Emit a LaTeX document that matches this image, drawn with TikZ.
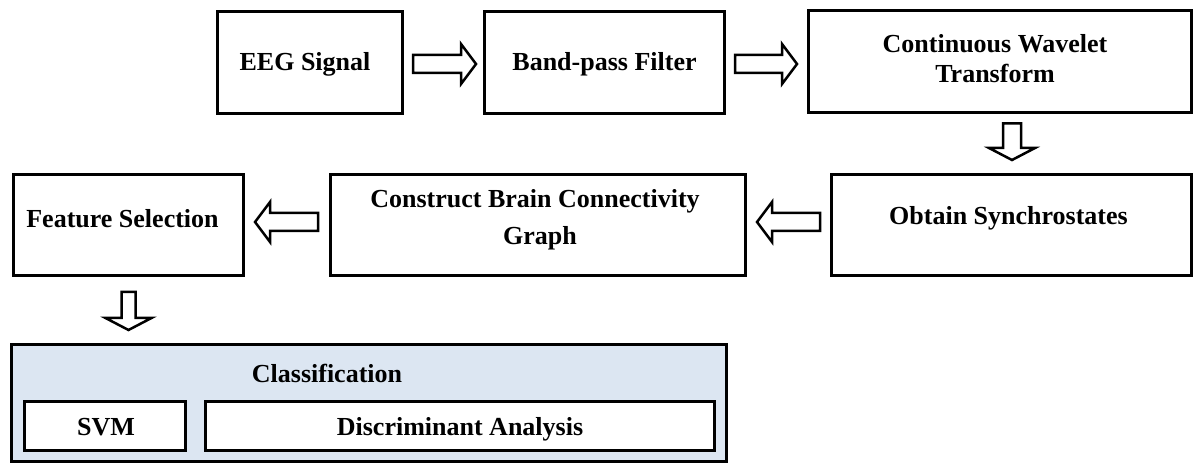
\documentclass[tikz,border=0pt]{standalone}
\usepackage{fontspec}
\setmainfont{Liberation Serif}
\usetikzlibrary{calc}
\definecolor{clsfill}{HTML}{DCE6F2}
\tikzset{
  box/.style={draw=black, line width=3pt, fill=white, inner sep=0pt, rectangle},
  txt/.style={font=\fontsize{26}{30}\selectfont\bfseries, inner sep=0pt, anchor=base},
  blk/.style={draw=black, line width=2.5pt, fill=white, line join=miter},
}
\newcommand\harr[4]{%
  \draw[blk] let \p1=(#1), \p2=(#2), \n1={sign(\x2-\x1)} in
    (\x1,\y1+#3) -- (\x2-\n1*15pt,\y1+#3) -- (\x2-\n1*15pt,\y1+#4) -- (\x2,\y1)
    -- (\x2-\n1*15pt,\y1-#4) -- (\x2-\n1*15pt,\y1-#3) -- (\x1,\y1-#3) -- cycle;}
\newcommand\varr[4]{%
  \draw[blk] let \p1=(#1), \p2=(#2) in
    (\x1-#3,\y1) -- (\x1-#3,\y2+12pt) -- (\x1-#4,\y2+12pt) -- (\x1,\y2)
    -- (\x1+#4,\y2+12pt) -- (\x1+#3,\y2+12pt) -- (\x1+#3,\y1) -- cycle;}
\begin{document}
\begin{tikzpicture}[x=1pt,y=-1pt]
\useasboundingbox (0,0) rectangle (1195,465);
% boxes
\node[box, minimum width=185, minimum height=102] (eeg) at (310,62.5) {};
\node[box, minimum width=240, minimum height=102] (bpf) at (604.5,62.5) {};
\node[box, minimum width=383, minimum height=102] (cwt) at (1000,62) {};
\node[box, minimum width=360, minimum height=101] (obt) at (1011.5,225) {};
\node[box, minimum width=415, minimum height=101] (cbg) at (538,225) {};
\node[box, minimum width=230, minimum height=101] (fs) at (128.5,225) {};
\node[box, fill=clsfill, minimum width=715, minimum height=117] (cls) at (369,403) {};
\node[box, minimum width=161, minimum height=49] (svm) at (105,426) {};
\node[box, minimum width=509, minimum height=49] (da) at (460,426) {};
% texts
\node[txt] (eegt) at ($(eeg.center)+(-5,8.5)$) {EEG Signal};
\node[txt] (bpft) at ($(bpf.center)+(0,8.5)$) {Band-pass Filter};
\node[txt] (cwt1) at ($(cwt.center)+(-5,-9)$) {Continuous Wavelet};
\node[txt] (cwt2) at ($(cwt.center)+(-5,21)$) {Transform};
\node[txt] (obtt) at ($(obt.center)+(-3,0)$) {Obtain Synchrostates};
\node[txt] (cbg1) at ($(cbg.center)+(-3,-17)$) {Construct Brain Connectivity};
\node[txt] (cbg2) at ($(cbg.center)+(2,20)$) {Graph};
\node[txt] (fst) at ($(fs.center)+(-6,3)$) {Feature Selection};
\node[txt] (clst) at (327,382) {Classification};
\node[txt] (svmt) at ($(svm.center)+(1,9)$) {SVM};
\node[txt] (dat) at ($(da.center)+(0,9)$) {Discriminant Analysis};
% block arrows
\harr{$(eeg.east)+(9,1.5)$}{$(bpf.west)+(-7,1.5)$}{9pt}{20pt}
\harr{$(bpf.east)+(9,1.5)$}{$(cwt.west)+(-10,1.5)$}{9pt}{20pt}
\varr{$(cwt.south)+(12,9)$}{$(obt.north)+(0,-13)$}{9pt}{23pt}
\harr{$(obt.west)+(-10,-3)$}{$(cbg.east)+(10,-3)$}{9pt}{20pt}
\harr{$(cbg.west)+(-11,-3)$}{$(fs.east)+(10,-3)$}{9pt}{20pt}
\varr{$(fs.south)+(0,15)$}{$(cls.north)+(0,-13)$}{7pt}{23pt}
\end{tikzpicture}
\end{document}
